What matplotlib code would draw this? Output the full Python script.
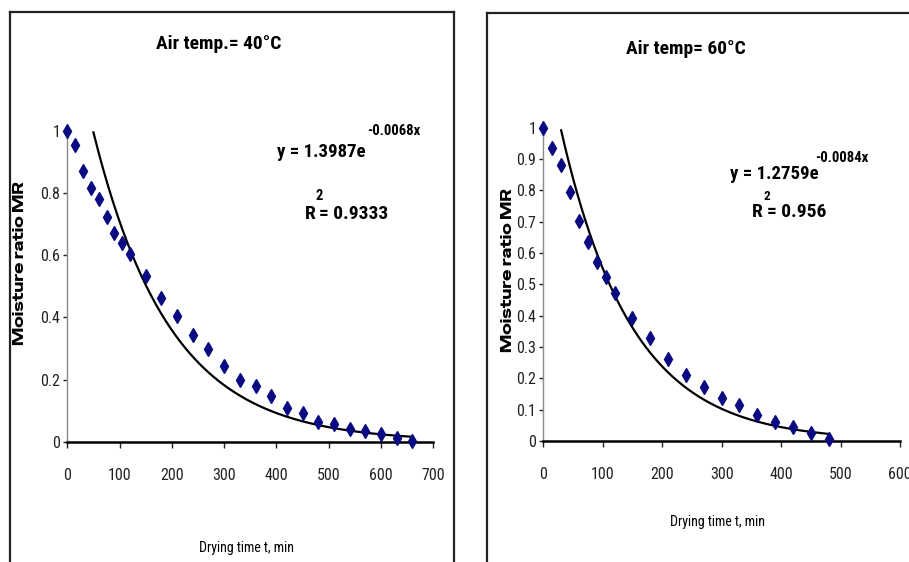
import numpy as np
import matplotlib
matplotlib.use("Agg")
import matplotlib.pyplot as plt
from matplotlib.lines import Line2D

# measured points, 40 C run
time_40 = [0, 15, 30, 45, 60, 75, 90, 105, 120, 150, 180, 210, 240, 270, 300,
           330, 360, 390, 420, 450, 480, 510, 540, 570, 600, 630, 660]
mr_40 = [1.0, 0.955, 0.871, 0.818, 0.780, 0.724, 0.673, 0.641, 0.605, 0.533,
         0.461, 0.404, 0.342, 0.299, 0.243, 0.200, 0.180, 0.147, 0.110, 0.091,
         0.063, 0.057, 0.040, 0.034, 0.024, 0.013, 0.003]

# measured points, 60 C run
time_60 = [0, 15, 30, 45, 60, 75, 90, 105, 120, 150, 180, 210, 240, 270, 300,
           330, 360, 390, 420, 450, 480]
mr_60 = [1.0, 0.936, 0.880, 0.794, 0.703, 0.635, 0.570, 0.522, 0.471, 0.393,
         0.330, 0.262, 0.211, 0.172, 0.136, 0.115, 0.082, 0.061, 0.046, 0.024,
         0.007]

# exponential trendlines as printed on the chart: y = a * exp(b * x)
fit_40 = {"a": 1.3987, "b": -0.0068, "r2": "0.9333", "x0": 50, "x1": 660}
fit_60 = {"a": 1.2759, "b": -0.0084, "r2": "0.956", "x0": 30, "x1": 480}

W, H = 909, 562
NARROW = ["Roboto Condensed", "PT Sans Narrow", "DejaVu Sans"]
WIDE = ["Special Gothic Expanded One", "Encode Sans Expanded",
        "Liberation Sans", "DejaVu Sans"]
MARK = "#0a0a82"
TICK_COLOR = "#222222"


def fx(px):
    return px / W


def fy(py):
    return 1 - py / H


fig = plt.figure(figsize=(W / 100, H / 100), dpi=100)
fig.patch.set_facecolor("white")


def panel(rect, x, y, fit, xmax, ymajor, ylabels):
    ax = fig.add_axes(rect)
    ax.plot(x, y, linestyle="none", marker="d", ms=7.5, color=MARK,
            markeredgecolor=MARK, clip_on=False, zorder=3)
    xs = np.linspace(fit["x0"], fit["x1"], 200)
    ax.plot(xs, fit["a"] * np.exp(fit["b"] * xs), color="black", lw=1.6,
            zorder=2, clip_on=False)

    ax.set_xlim(0, xmax)
    ax.set_ylim(0, 1)
    ax.set_xticks(np.arange(0, xmax + 1, 100))
    ax.set_yticks(ymajor)
    ax.set_yticklabels(ylabels)

    for s in ["top", "right"]:
        ax.spines[s].set_visible(False)
    ax.spines["left"].set_color("#8a8a8a")
    ax.spines["left"].set_linewidth(1.0)
    ax.spines["bottom"].set_color("black")
    ax.spines["bottom"].set_linewidth(1.8)

    ax.tick_params(axis="x", direction="out", length=4, width=1,
                   pad=15, colors=TICK_COLOR, labelsize=11.5)
    ax.tick_params(axis="y", direction="out", length=3, width=1,
                   pad=2, colors=TICK_COLOR, labelsize=11.5)
    for lab in ax.get_xticklabels() + ax.get_yticklabels():
        lab.set_family(NARROW)
    ax.set_facecolor("none")
    return ax


# left panel (40 C)
panel([fx(67.3), fy(441.7), fx(433.3) - fx(67.3), fy(131) - fy(441.7)],
      time_40, mr_40, fit_40, 700,
      [0, 0.2, 0.4, 0.6, 0.8, 1.0], ["0", "0.2", "0.4", "0.6", "0.8", "1"])

# right panel (60 C)
yt = [i / 10 for i in range(11)]
panel([fx(543.3), fy(441), fx(900) - fx(543.3), fy(127.7) - fy(441)],
      time_60, mr_60, fit_60, 600,
      yt, ["0"] + [f"{v:.1f}" for v in yt[1:-1]] + ["1"])

# panel frames
frame = dict(color="#222222", lw=1.6, transform=fig.transFigure)
fig.add_artist(Line2D([fx(10), fx(454)], [fy(12), fy(12)], **frame))
fig.add_artist(Line2D([fx(10), fx(10)], [fy(12), 0], **frame))
fig.add_artist(Line2D([fx(454), fx(454)], [fy(12), 0], **frame))
fig.add_artist(Line2D([fx(487), 1], [fy(13), fy(13)], **frame))
fig.add_artist(Line2D([fx(487), fx(487)], [fy(13), 0], **frame))

# titles
fig.text(fx(219), fy(44), "Air temp.= 40°C", ha="center", va="center",
         family=NARROW, weight="bold", fontsize=14)
fig.text(fx(686), fy(49), "Air temp= 60°C", ha="center", va="center",
         family=NARROW, weight="bold", fontsize=14)

# axis labels
fig.text(fx(20), fy(263), "Moisture ratio MR", rotation=90, ha="center",
         va="center", fontsize=11, family=WIDE)
fig.text(fx(508), fy(270), "Moisture ratio MR", rotation=90, ha="center",
         va="center", fontsize=11, family=WIDE)
fig.text(fx(247), fy(548), "Drying time t, min", ha="center", va="center",
         family=NARROW, fontsize=10)
fig.text(fx(717), fy(522), "Drying time t, min", ha="center", va="center",
         family=NARROW, fontsize=10)

# trendline equations
eq = dict(family=NARROW, weight="bold", va="center", ha="left")
fig.text(fx(277), fy(152), f"y = {fit_40['a']}e", fontsize=13.5, **eq)
fig.text(fx(367), fy(131), f"{fit_40['b']}x", fontsize=10.5, **eq)
fig.text(fx(305), fy(214), "R", fontsize=14, **eq)
fig.text(fx(315), fy(196), "2", fontsize=10.5, **eq)
fig.text(fx(319), fy(214), f"= {fit_40['r2']}", fontsize=14, **eq)

fig.text(fx(730), fy(174), f"y = {fit_60['a']}e", fontsize=13.5, **eq)
fig.text(fx(815), fy(158), f"{fit_60['b']}x", fontsize=10.5, **eq)
fig.text(fx(752), fy(212), "R", fontsize=14, **eq)
fig.text(fx(763), fy(197), "2", fontsize=9.5, **eq)
fig.text(fx(767), fy(212), f"= {fit_60['r2']}", fontsize=14, **eq)

fig.savefig("out.png", dpi=100)
